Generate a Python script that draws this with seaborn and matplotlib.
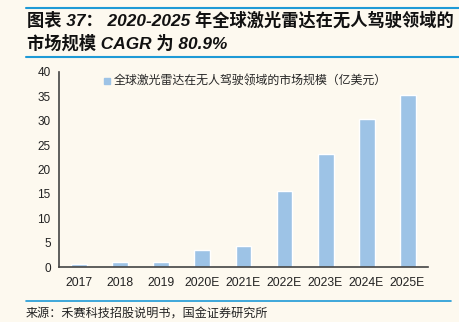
import matplotlib
matplotlib.use("Agg")
import matplotlib.pyplot as plt
from matplotlib.lines import Line2D
import seaborn as sns
import pandas as pd
import numpy as np

years = ["2017", "2018", "2019", "2020E", "2021E", "2022E", "2023E", "2024E", "2025E"]
market_size = [0.7, 1.0, 1.0, 3.4, 4.4, 15.5, 23.2, 30.4, 35.3]
series_name = "全球激光雷达在无人驾驶领域的市场规模（亿美元）"
title_line1 = "图表 37： 2020-2025 年全球激光雷达在无人驾驶领域的"
title_line2 = "市场规模 CAGR 为 80.9%"
source_text = "来源：禾赛科技招股说明书，国金证券研究所"
y_ticks = [0, 5, 10, 15, 20, 25, 30, 35, 40]

bg = "#FDF9EF"
bar_color = "#9DC3E6"
line_blue = "#1E9AD6"

sns.set_theme(style="white")
plt.rcParams["font.family"] = ["Liberation Sans", "Noto Sans CJK SC", "DejaVu Sans"]

df = pd.DataFrame({"year": years, "value": market_size})

fig = plt.figure(figsize=(4.59, 3.22), dpi=100, facecolor=bg)
ax = fig.add_axes([0.1285, 0.1708, 0.804, 0.6056])
ax.set_facecolor(bg)

sns.barplot(data=df, x="year", y="value", color=bar_color, width=0.39,
            saturation=1, ax=ax, label=series_name)

ax.set_xlim(-0.5, len(years) - 0.5)
ax.set_ylim(0, 40)
ax.set_yticks(y_ticks)
ax.set_yticklabels([str(v) for v in y_ticks], fontsize=8.5, color="#222222")
ax.set_xticks(np.arange(len(years)))
ax.set_xticklabels(years, fontsize=8.7, color="#222222")
ax.tick_params(axis="x", which="major", length=0, pad=7)
ax.set_xticks(np.arange(-0.5, len(years), 1.0), minor=True)
ax.tick_params(axis="x", which="minor", length=4, width=1, color="#444444", direction="out")
ax.tick_params(axis="y", length=4, width=1, color="#444444", direction="out", pad=2)
ax.set_xlabel("")
ax.set_ylabel("")
for s in ["top", "right"]:
    ax.spines[s].set_visible(False)
for s in ["left", "bottom"]:
    ax.spines[s].set_color("#444444")
    ax.spines[s].set_linewidth(1.2)

handle = Line2D([0], [0], marker="s", color="none", markerfacecolor=bar_color,
                markeredgecolor=bar_color, markersize=5)
ax.legend([handle], [series_name], loc="upper left", bbox_to_anchor=(0.09, 1.04),
          frameon=False, handlelength=0.6, handletextpad=0.3,
          prop={"family": ["Noto Sans CJK SC"], "size": 8.6})

# title
fig.add_artist(Line2D([26 / 459, 1.0], [1 - 8 / 322] * 2, color=line_blue, lw=1.5))
fig.add_artist(Line2D([26 / 459, 1.0], [1 - 57 / 322] * 2, color=line_blue, lw=1.5))
fig.text(27 / 459, 1 - 20 / 322, title_line1, fontsize=12.4, fontweight="bold",
         style="italic", va="center", ha="left", color="#111111")
fig.text(27 / 459, 1 - 43 / 322, title_line2, fontsize=12.4, fontweight="bold",
         style="italic", va="center", ha="left", color="#111111")

# source
fig.add_artist(Line2D([26 / 459, 451 / 459], [1 - 301 / 322] * 2, color=line_blue, lw=1.2))
fig.text(26 / 459, 1 - 313 / 322, source_text, fontsize=8.7, va="center", ha="left",
         family=["Noto Sans CJK SC"], color="#222222")

fig.savefig("out.png", dpi=100, facecolor=bg)
